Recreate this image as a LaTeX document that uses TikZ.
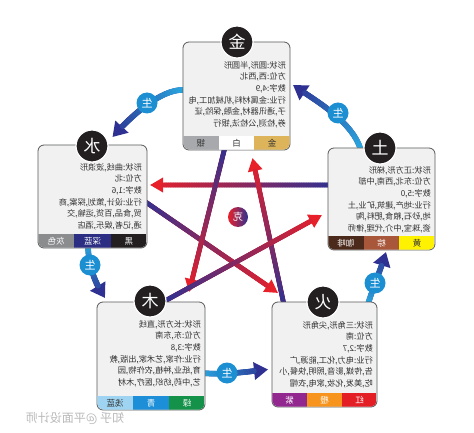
\documentclass[tikz,border=0pt]{standalone}
\usepackage{fontspec}
\setmainfont{Noto Sans CJK SC}
\usetikzlibrary{arrows.meta,decorations.markings,calc}
\newcommand{\mr}[1]{\scalebox{-1}[1]{#1}}
\newcommand{\infotab}[1]{\mr{\begin{tabular}{@{}l@{}}#1\end{tabular}}}
\definecolor{navy}{HTML}{2E3192}
\definecolor{skyb}{HTML}{29ABE2}
\definecolor{shengc}{HTML}{1B8FD2}
\definecolor{kered}{HTML}{E8202A}
\definecolor{kenavy}{HTML}{2E3192}
\definecolor{boxfill}{HTML}{F1F1F1}
\definecolor{boxedge}{HTML}{58595B}
\definecolor{inkc}{HTML}{333333}
\definecolor{lblk}{HTML}{231F20}
\definecolor{cgold}{HTML}{DDB45A}
\definecolor{csilver}{HTML}{A7A9AC}
\definecolor{cgray}{HTML}{8A8C8E}
\definecolor{cnavy}{HTML}{2B2E83}
\definecolor{cblack}{HTML}{231F20}
\definecolor{ccoffee}{HTML}{4B2A1B}
\definecolor{cbrown}{HTML}{A8573B}
\definecolor{cyellow}{HTML}{FFF200}
\definecolor{clblue}{HTML}{9ED4F2}
\definecolor{cqing}{HTML}{1C8FD8}
\definecolor{cgreen}{HTML}{15924A}
\definecolor{cpurple}{HTML}{92278F}
\definecolor{corange}{HTML}{F7941D}
\definecolor{cred}{HTML}{E31E24}
\newcommand{\wxcell}[8]{%
  \fill[#6] (#2,#4) rectangle (#3,#5);
  \node[celltext, text=#7] (#1) at ({(#2+#3)/2},{(#4+#5)/2}) {\mr{#8}};}
\begin{document}
\begin{tikzpicture}[x=1pt,y=-1pt,
 box/.style={draw=boxedge, fill=boxfill, rounded corners=6pt, line width=0.8pt, outer sep=0pt, inner sep=0pt},
 lbl/.style={circle, fill=lblk, draw=white, line width=1.2pt, minimum size=32pt, inner sep=0pt, text=white, font=\fontsize{17}{17}\selectfont},
 sheng/.style={circle, fill=shengc, minimum size=21pt, inner sep=0pt, text=white, font=\fontsize{11}{11}\selectfont},
 info/.style={anchor=north east, inner sep=0pt, text=inkc, font=\fontsize{8.2}{11.6}\selectfont},
 celltext/.style={inner sep=0pt, font=\fontsize{8.5}{8.5}\selectfont},
 gradline/.style n args={4}{decoration={markings, mark=between positions 0 and -#4 step 0.7pt with {\pgfmathtruncatemacro\gp{\pgfkeysvalueof{/pgf/decoration/mark info/distance from start}/\pgfdecoratedpathlength*100}\fill[#2!\gp!#1] (0pt,0pt) circle (#3);}}, postaction=decorate},
 shengarrow/.style={line width=5.5pt, draw=navy, -{Triangle[length=14pt,width=17pt]}, gradline={skyb}{navy}{2.75pt}{14pt}},
 kearrow/.style={line width=4.8pt, draw=kered, -{Triangle[length=13pt,width=14pt]}, gradline={kenavy}{kered}{2.4pt}{13pt}},
]
\useasboundingbox (0,0) rectangle (474,433);
\fill[white] (0,0) rectangle (474,433);
% box placeholders (for names)
\path (236.5,96) coordinate (jinc) (92.5,196.5) coordinate (shuic) (381.5,199) coordinate (tuc)
      (151,356) coordinate (muc) (324.5,354.5) coordinate (huoc);
\node[box, draw=none, fill=none, minimum width=107pt, minimum height=108pt] (jin) at (jinc) {};
\node[box, draw=none, fill=none, minimum width=109pt, minimum height=103pt] (shui) at (shuic) {};
\node[box, draw=none, fill=none, minimum width=107pt, minimum height=102pt] (tu) at (tuc) {};
\node[box, draw=none, fill=none, minimum width=108pt, minimum height=108pt] (mu) at (muc) {};
\node[box, draw=none, fill=none, minimum width=105pt, minimum height=105pt] (huo) at (huoc) {};
% ke (star) arrows
\draw[kearrow] ($(tu.west)+(5,-14)$) -- ($(shui.east)+(3,-11.5)$);
\draw[kearrow] ($(shui.east)+(-5,3)$) -- ($(huo.north west)+(6,-9)$);
\draw[kearrow] ($(huo.north west)+(12,3)$) -- ($(jin.south)+(16,8)$);
\draw[kearrow] ($(jin.south)+(-11,-5)$) -- ($(mu.north east)+(-16,-10)$);
\draw[kearrow] ($(mu.north)+(12,0)$) -- ($(tu.west)+(-6,16)$);
\node[circle, minimum size=20pt, inner sep=0pt, left color=kered, right color=kenavy, text=white, font=\fontsize{10}{10}\selectfont] (ke) at (238,217) {\mr{克}};
% sheng arrows
\draw[shengarrow] ($(jin.west)+(2,-6)$) .. controls (160,88) and (128,120) .. ($(shui.north)+(20,-8)$);
\draw[shengarrow] ($(shui.south)+(-4.5,-4)$) .. controls (88,268) and (97,285) .. ($(mu.north west)+(8,-4)$);
\draw[shengarrow] ($(mu.east)+(-4,17)$) .. controls (225,375) and (245,372) .. ($(huo.west)+(-4,15)$);
\draw[shengarrow] ($(huo.north east)+(-9,2)$) .. controls (373,288) and (381,268) .. ($(tu.south)+(4.5,2)$);
\draw[shengarrow] ($(tu.north)+(-21,1)$) .. controls (352,122) and (318,102) .. ($(jin.east)+(3,-11)$);
\node[sheng] (s1) at (147,103) {\mr{生}};
\node[sheng] (s2) at (90,265) {\mr{生}};
\node[sheng] (s3) at (227,373) {\mr{生}};
\node[sheng] (s4) at (375,283) {\mr{生}};
\node[sheng] (s5) at (338,113) {\mr{生}};
% boxes
\node[box, minimum width=107pt, minimum height=108pt] (jinb) at (jinc) {};
\node[box, minimum width=109pt, minimum height=103pt] (shuib) at (shuic) {};
\node[box, minimum width=107pt, minimum height=102pt] (tub) at (tuc) {};
\node[box, minimum width=108pt, minimum height=108pt] (mub) at (muc) {};
\node[box, minimum width=105pt, minimum height=105pt] (huob) at (huoc) {};
% strips
\begin{scope}
\clip[rounded corners=5.6pt] ([shift={(0.4pt,-0.4pt)}]jin.north west) rectangle ([shift={(-0.4pt,0.4pt)}]jin.south east);
\wxcell{j1}{183}{218.67}{136}{150}{csilver}{inkc}{银}
\wxcell{j2}{218.67}{254.33}{136}{150}{white}{inkc}{白}
\wxcell{j3}{254.33}{290}{136}{150}{cgold}{inkc}{金}
\end{scope}
\begin{scope}
\clip[rounded corners=5.6pt] ([shift={(0.4pt,-0.4pt)}]shui.north west) rectangle ([shift={(-0.4pt,0.4pt)}]shui.south east);
\wxcell{w1}{38}{74.33}{234}{248}{cgray}{white}{灰色}
\wxcell{w2}{74.33}{110.67}{234}{248}{cnavy}{white}{深蓝}
\wxcell{w3}{110.67}{147}{234}{248}{cblack}{white}{黑}
\end{scope}
\begin{scope}
\clip[rounded corners=5.6pt] ([shift={(0.4pt,-0.4pt)}]tu.north west) rectangle ([shift={(-0.4pt,0.4pt)}]tu.south east);
\wxcell{t1}{328}{363.67}{236}{250}{ccoffee}{white}{咖啡}
\wxcell{t2}{363.67}{399.33}{236}{250}{cbrown}{white}{棕}
\wxcell{t3}{399.33}{435}{236}{250}{cyellow}{inkc}{黄}
\end{scope}
\begin{scope}
\clip[rounded corners=5.6pt] ([shift={(0.4pt,-0.4pt)}]mu.north west) rectangle ([shift={(-0.4pt,0.4pt)}]mu.south east);
\wxcell{m1}{97}{133}{396}{410}{clblue}{inkc}{浅蓝}
\wxcell{m2}{133}{169}{396}{410}{cqing}{white}{青}
\wxcell{m3}{169}{205}{396}{410}{cgreen}{white}{绿}
\end{scope}
\begin{scope}
\clip[rounded corners=5.6pt] ([shift={(0.4pt,-0.4pt)}]huo.north west) rectangle ([shift={(-0.4pt,0.4pt)}]huo.south east);
\wxcell{h1}{272}{307}{393}{407}{cpurple}{white}{紫}
\wxcell{h2}{307}{342}{393}{407}{corange}{white}{橙}
\wxcell{h3}{342}{377}{393}{407}{cred}{white}{红}
\end{scope}
% texts
\node[info] (jint) at (286,60) {\infotab{形状:圆形,半圆形\\方位:西,西北\\数字:4,9\\行业:金属材料,机械加工,电\\子,通讯器材,金融,保险,证\\券,检测,公检法,银行}};
\node[info] (shuit) at (142,162) {\infotab{形状:曲线,波浪形\\方位:北\\数字:1,6\\行业:设计,策划,探案,商\\贸,食品,百货,运输,交\\通,记者,娱乐,酒店}};
\node[info] (tut) at (431,165) {\infotab{形状:正方形,梯形\\方位:东北,西南,中部\\数字:5,0\\行业:地产,建筑,矿业,土\\地,砂石,粮食,肥料,陶\\瓷,珠宝,中介,代理,律师}};
\node[info] (mut) at (201,319) {\infotab{形状:长方形,直线\\方位:东,东南\\数字:3,8\\行业:作家,艺术家,出版,教\\育,纸业,种植,农作物,园\\艺,中药,纺织,医疗,木材}};
\node[info] (huot) at (373,320) {\infotab{形状:三角形,尖角形\\方位:南\\数字:2,7\\行业:电力,化工,能源,广\\告,传媒,影音,照明,快餐,小\\吃,美发,化妆,家电,衣帽}};
% labels
\node[lbl] (jinl) at (237,42) {\mr{金}};
\node[lbl] (shuil) at (92,146) {\mr{水}};
\node[lbl] (tul) at (380,148) {\mr{土}};
\node[lbl] (mul) at (150,301) {\mr{木}};
\node[lbl] (huol) at (323,302) {\mr{火}};
% watermark
\node[text=gray!55, font=\fontsize{12}{12}\selectfont, inner sep=0pt] (wm) at (75,418) {\mr{知乎 @平面设计师}};
\end{tikzpicture}
\end{document}
